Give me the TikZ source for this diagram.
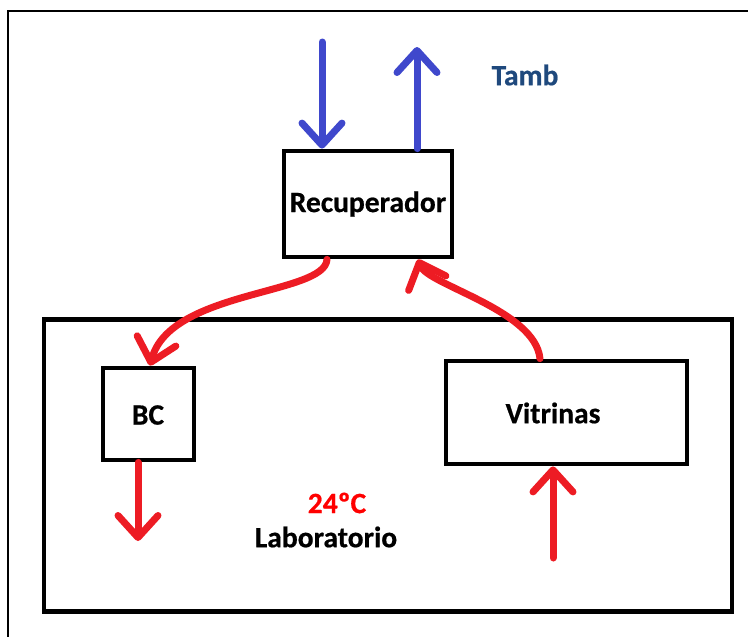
\documentclass[tikz,border=0pt]{standalone}
\usepackage{fontspec}
\setmainfont{Carlito}[BoldFeatures={FakeBold=0.6}]
\usetikzlibrary{arrows.meta}
\definecolor{pblue}{HTML}{3F48CC}
\definecolor{pred}{HTML}{ED1C24}
\definecolor{tambc}{HTML}{1F497D}
\definecolor{hotred}{HTML}{FF0000}
\tikzset{
  box/.style={draw=black, line width=4.8pt, fill=none, inner sep=0pt},
  lbl/.style={font=\fontsize{29.5}{31}\selectfont\bfseries, inner sep=0pt},
  flow/.style={line width=7pt, line cap=round, line join=round,
    -{Straight Barb[length=22pt,width=40pt,line cap=round,line join=round]}},
  blueflow/.style={flow, draw=pblue},
  redflow/.style={flow, draw=pred},
}
\begin{document}
\begin{tikzpicture}[x=1pt,y=-1pt]
\useasboundingbox (0,0) rectangle (748,637);
% outer frame (only left and top edges visible)
\draw[line width=2.5pt] (8,637) -- (8,11) -- (748,11);
% boxes
\node[box, minimum width=688pt, minimum height=292pt] (lab) at (388,465.5) {};
\node[box, minimum width=168pt, minimum height=106pt] (rec) at (368,204) {};
\node[box, minimum width=91pt, minimum height=92pt] (bc) at (148.5,414) {};
\node[box, minimum width=241pt, minimum height=103pt] (vit) at (566.5,412.5) {};
% texts
\node[lbl] (recT) at (368,204) {Recuperador};
\node[lbl] (bcT) at (148,415) {BC};
\node[lbl] (vitT) at (553,413) {Vitrinas};
\node[lbl, text=hotred] (tempT) at (337,503) {24ºC};
\node[lbl] (labT) at (326,537) {Laboratorio};
\node[lbl, text=tambc] (tambT) at (525,75) {Tamb};
% free ends
\coordinate (inTop) at (322,42);
\coordinate (outTop) at (417,47);
\coordinate (recOut) at (327,0);
\coordinate (recIn) at (418,0);
\coordinate (bcIn) at (150,0);
\coordinate (vitOut) at (540,0);
\coordinate (bcDown) at (138,541);
\coordinate (vitUp) at (553,558);
% blue arrows
\draw[blueflow] (inTop) -- (inTop |- rec.north);
\draw[blueflow] (outTop |- rec.north) -- (outTop);
% red arrows
\draw[redflow] (recOut |- rec.south) .. controls (325,295) and (170,290) .. (bcIn |- bc.north);
\draw[redflow] (vitOut |- vit.north) .. controls (535,310) and (428,285) .. (recIn |- rec.south);
\draw[redflow] (bcDown |- bc.south) -- (bcDown);
\draw[redflow] (vitUp) -- (vitUp |- vit.south);
\end{tikzpicture}
\end{document}
